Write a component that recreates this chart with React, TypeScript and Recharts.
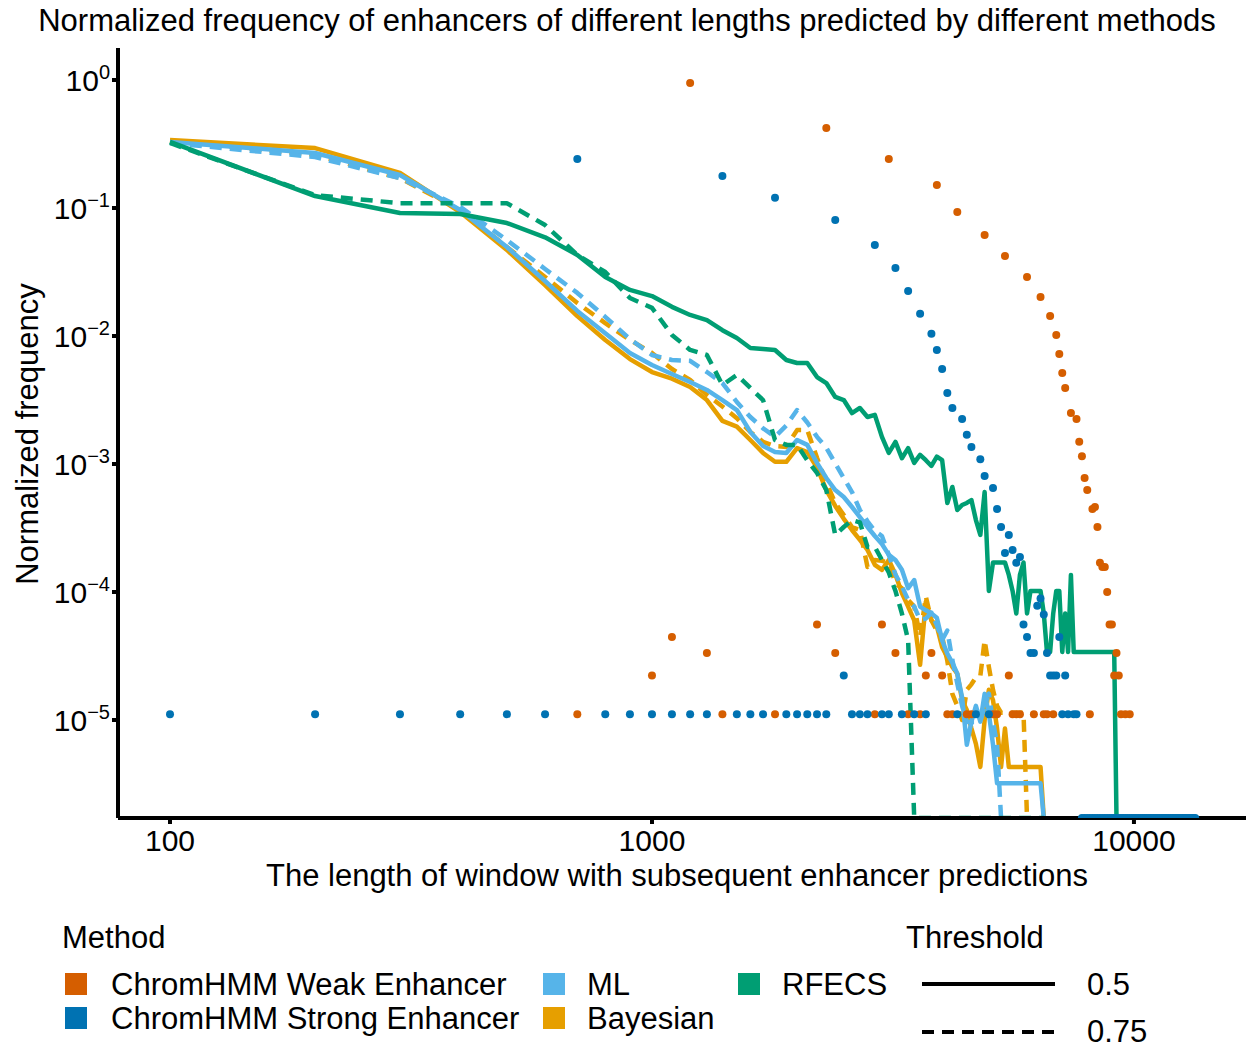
import React from 'react';
import { ComposedChart, Line, Scatter, XAxis, YAxis } from 'recharts';

const FONT = '"Liberation Sans", Arial, Helvetica, sans-serif';

// axis ranges (log10 scales, as in the original panel)
const X_MIN = 78;
const X_MAX = 17080;
const Y_MIN = 1.7155e-6; // panel floor: zero counts are drawn here
const Y_MAX = 1.778;
const X_TICKS = [100, 1000, 10000];
const Y_TICKS = [1e-5, 1e-4, 1e-3, 1e-2, 1e-1, 1];

const C_WEAK = '#D55E00';
const C_STRONG = '#0072B2';
const C_ML = '#56B4E9';
const C_BAYES = '#E69F00';
const C_RFECS = '#009E73';

// [window length, normalized frequency]
const mlSolid: [number, number][] = [
  [100, 0.328], [200, 0.269], [300, 0.181], [400, 0.0965], [500, 0.0496], [600, 0.0269], [700, 0.0157], [800, 0.0105],
  [900, 0.00737], [1000, 0.00593], [1100, 0.00505], [1200, 0.00437], [1300, 0.00379], [1400, 0.00316], [1500, 0.00264],
  [1600, 0.00178], [1700, 0.00138], [1800, 0.00124], [1900, 0.00122], [2000, 0.00154], [2100, 0.00141], [2200, 0.00102],
  [2300, 0.000777], [2400, 0.000626], [2500, 0.000552], [2600, 0.000461], [2700, 0.000385], [2800, 0.000322],
  [2900, 0.000274], [3000, 0.000237], [3100, 0.000195], [3200, 0.000178], [3300, 0.000149], [3400, 0.000107],
  [3500, 0.000124], [3600, 7.7e-5], [3700, 7.2e-5], [3800, 6.8e-5], [3900, 6.3e-5], [4000, 4.2e-5], [4100, 3.3e-5],
  [4200, 2.8e-5], [4300, 2.3e-5], [4400, 1.5e-5], [4500, 6.4e-6], [4600, 9.7e-6], [4700, 1.29e-5], [4800, 9.7e-6],
  [4900, 1.6e-5], [5000, 1.13e-5], [5100, 6.4e-6], [5200, 3.2e-6], [5300, 3.2e-6], [6400, 3.2e-6], [6500, 0],
];

const mlDashed: [number, number][] = [
  [100, 0.322], [200, 0.25], [300, 0.171], [400, 0.102], [500, 0.0562], [600, 0.0334], [700, 0.0217], [800, 0.0141],
  [900, 0.00948], [1000, 0.00711], [1100, 0.00649], [1200, 0.0064], [1300, 0.00523], [1400, 0.00429], [1500, 0.00305],
  [1600, 0.00233], [1700, 0.0019], [1800, 0.00163], [1900, 0.002], [2000, 0.00264], [2100, 0.00211], [2200, 0.00163],
  [2300, 0.00134], [2400, 0.00101], [2500, 0.000777], [2600, 0.000604], [2700, 0.000437], [2800, 0.000357],
  [2900, 0.0003], [3000, 0.000274], [3100, 0.000195], [3200, 0.000137], [3300, 0.000111], [3400, 8.66e-5],
  [3500, 7.7e-5], [3600, 6.04e-5], [3700, 6.2e-5], [3800, 6.9e-5], [3900, 5.5e-5], [4000, 4.22e-5], [4100, 5.0e-5],
  [4200, 2.94e-5], [4300, 1.93e-5], [4400, 1.29e-5], [4500, 9.66e-6], [4600, 9.66e-6], [4700, 9.66e-6],
  [4800, 9.66e-6], [4900, 1.29e-5], [5000, 1.61e-5], [5100, 9.66e-6], [5200, 6.44e-6], [5300, 0],
];

const bayesSolid: [number, number][] = [
  [100, 0.34], [200, 0.294], [300, 0.188], [400, 0.093], [500, 0.047], [600, 0.025], [700, 0.0143], [800, 0.0093],
  [900, 0.0066], [1000, 0.00523], [1100, 0.00464], [1200, 0.004], [1300, 0.00316], [1400, 0.00217], [1500, 0.00196],
  [1600, 0.00154], [1700, 0.00122], [1800, 0.00104], [1900, 0.00104], [2000, 0.00133], [2100, 0.00124], [2200, 0.00094],
  [2300, 0.000626], [2400, 0.00047], [2500, 0.000373], [2600, 0.000305], [2700, 0.000255], [2800, 0.000213],
  [2900, 0.000163], [3000, 0.000149], [3100, 0.000178], [3200, 0.000137], [3300, 9.8e-5], [3400, 7.7e-5],
  [3500, 6.0e-5], [3600, 2.7e-5], [3700, 8.4e-5], [3800, 6.0e-5], [3900, 5.4e-5], [4000, 3.7e-5], [4100, 3.1e-5],
  [4200, 2.6e-5], [4300, 2.3e-5], [4400, 1.43e-5], [4500, 1.2e-5], [4600, 8.6e-6], [4700, 6.5e-6], [4800, 4.3e-6],
  [4900, 1.0e-5], [5000, 1.72e-5], [5100, 1.43e-5], [5200, 8.6e-6], [5300, 4.3e-6], [5400, 8.6e-6], [5500, 4.3e-6],
  [6400, 4.3e-6], [6500, 0],
];

const bayesDashed: [number, number][] = [
  [100, 0.334], [200, 0.26], [300, 0.171], [400, 0.0965], [500, 0.0496], [600, 0.0289], [700, 0.0181], [800, 0.0126],
  [900, 0.0093], [1000, 0.00737], [1100, 0.00552], [1200, 0.00453], [1300, 0.00347], [1400, 0.00281], [1500, 0.00228],
  [1600, 0.00178], [1700, 0.00149], [1800, 0.00138], [1900, 0.00136], [2000, 0.00184], [2100, 0.00184], [2200, 0.00112],
  [2300, 0.00072], [2400, 0.000496], [2500, 0.0004], [2600, 0.000322], [2700, 0.000305], [2800, 0.000157],
  [2900, 0.000178], [3000, 0.000175], [3100, 0.00017], [3200, 0.000117], [3300, 0.000107], [3400, 8.66e-5],
  [3500, 7.7e-5], [3600, 4.5e-5], [3700, 9.2e-5], [3800, 6.0e-5], [3900, 5.0e-5], [4000, 4.5e-5], [4100, 2.9e-5],
  [4200, 1.6e-5], [4300, 1.29e-5], [4400, 1.0e-5], [4500, 1.72e-5], [4600, 1.9e-5], [4700, 2.15e-5], [4800, 2.2e-5],
  [4900, 4.2e-5], [5000, 2.6e-5], [5100, 1.72e-5], [5200, 1.29e-5], [5300, 1.14e-5], [5900, 1.14e-5], [6000, 0],
];

const rfecsSolid: [number, number][] = [
  [100, 0.328], [200, 0.124], [300, 0.0914], [400, 0.0898], [500, 0.0763], [600, 0.059], [700, 0.043], [800, 0.0289],
  [900, 0.0229], [1000, 0.0205], [1100, 0.0169], [1200, 0.0146], [1300, 0.0133], [1400, 0.0111], [1500, 0.00964],
  [1600, 0.00806], [1700, 0.00791], [1800, 0.00778], [1900, 0.00649], [2000, 0.00615], [2100, 0.00615], [2200, 0.00478],
  [2300, 0.00429], [2400, 0.00334], [2500, 0.00316], [2600, 0.0025], [2700, 0.00274], [2800, 0.00233], [2900, 0.00242],
  [3000, 0.00163], [3100, 0.00122], [3200, 0.00149], [3300, 0.00111], [3400, 0.00133], [3500, 0.00102], [3600, 0.00118],
  [3700, 0.00107], [3800, 0.000965], [3900, 0.00114], [4000, 0.00107], [4100, 0.000496], [4200, 0.000661],
  [4300, 0.000437], [4400, 0.000478], [4500, 0.000496], [4600, 0.000523], [4700, 0.000365], [4800, 0.000279],
  [4900, 0.000604], [5000, 0.000102], [5100, 0.00017], [5200, 0.00017], [5300, 0.00017], [5400, 0.00017],
  [5500, 0.000136], [5600, 0.000102], [5700, 6.8e-5], [5800, 0.000136], [5900, 0.00017], [6000, 6.8e-5],
  [6100, 0.000102], [6200, 0.000102], [6300, 0.000102], [6400, 0.000102], [6500, 6.8e-5], [6600, 3.4e-5],
  [6700, 3.4e-5], [6800, 6.8e-5], [6900, 0.000102], [7000, 0.000102], [7100, 3.4e-5], [7200, 6.8e-5],
  [7300, 3.4e-5], [7400, 0.000136], [7500, 3.4e-5], [9100, 3.4e-5], [9200, 0],
];

const rfecsDashed: [number, number][] = [
  [100, 0.322], [200, 0.126], [300, 0.109], [400, 0.109], [500, 0.109], [600, 0.0736], [700, 0.043], [800, 0.0316],
  [900, 0.0198], [1000, 0.0166], [1100, 0.0102], [1200, 0.00778], [1300, 0.00711], [1400, 0.00414], [1500, 0.00496],
  [1600, 0.00393], [1700, 0.00316], [1800, 0.00154], [1900, 0.00141], [2000, 0.00141], [2100, 0.00107],
  [2200, 0.000851], [2300, 0.000626], [2400, 0.000279], [2500, 0.000322], [2600, 0.000365], [2700, 0.00035],
  [2800, 0.000225], [2900, 0.000225], [3000, 0.000178], [3100, 0.000142], [3200, 0.000102], [3300, 6.8e-5],
  [3400, 4.2e-5], [3500, 0], [6500, 0],
];

const weakPts: [number, number][] = [
  [700, 1.11e-5], [1000, 2.23e-5], [1100, 4.46e-5], [1200, 0.948], [1300, 3.34e-5], [1400, 1.11e-5], [1800, 1.11e-5],
  [2200, 5.57e-5], [2300, 0.422], [2400, 3.34e-5], [2900, 1.11e-5], [3000, 5.57e-5], [3100, 0.241], [3200, 3.34e-5],
  [3400, 1.11e-5], [3600, 1.11e-5], [3700, 2.23e-5], [3800, 3.34e-5], [3900, 0.151], [4000, 2.23e-5], [4100, 1.11e-5],
  [4200, 1.11e-5], [4300, 0.0931], [4500, 1.11e-5], [4600, 1.11e-5], [4900, 0.0615], [5100, 1.11e-5], [5200, 1.11e-5],
  [5400, 0.0422], [5500, 2.23e-5], [5600, 1.11e-5], [5700, 1.11e-5], [5800, 1.11e-5], [6000, 0.0289], [6200, 1.11e-5],
  [6400, 0.0202], [6500, 1.11e-5], [6600, 1.11e-5], [6700, 0.0143], [6800, 1.11e-5], [6900, 0.0102], [7000, 0.00723],
  [7100, 0.00514], [7200, 0.00393], [7400, 0.0025], [7600, 0.00225], [7700, 0.00149], [7800, 0.00115],
  [7900, 0.000777], [8000, 0.000626], [8100, 1.11e-5], [8200, 0.000445], [8300, 0.000461], [8400, 0.000322],
  [8500, 0.000169], [8600, 0.000157], [8700, 0.000157], [8800, 1.0e-4], [8900, 5.57e-5], [9000, 5.57e-5],
  [9100, 2.23e-5], [9200, 3.34e-5], [9300, 2.23e-5], [9400, 1.11e-5], [9600, 1.11e-5], [9800, 1.11e-5],
];

const strongPts: [number, number][] = [
  [100, 1.11e-5], [200, 1.11e-5], [300, 1.11e-5], [400, 1.11e-5], [500, 1.11e-5], [600, 1.11e-5], [700, 0.241],
  [800, 1.11e-5], [900, 1.11e-5], [1000, 1.11e-5], [1100, 1.11e-5], [1200, 1.11e-5], [1300, 1.11e-5], [1400, 0.178],
  [1500, 1.11e-5], [1600, 1.11e-5], [1700, 1.11e-5], [1800, 0.12], [1900, 1.11e-5], [2000, 1.11e-5], [2100, 1.11e-5],
  [2200, 1.11e-5], [2300, 1.11e-5], [2400, 0.0806], [2500, 2.23e-5], [2600, 1.11e-5], [2700, 1.11e-5], [2800, 1.11e-5],
  [2900, 0.0514], [3000, 1.11e-5], [3100, 1.11e-5], [3200, 0.034], [3300, 1.11e-5], [3400, 0.0225], [3500, 1.11e-5],
  [3600, 0.0149], [3700, 1.11e-5], [3800, 0.0104], [3900, 0.00778], [4000, 0.00552], [4100, 0.00359], [4200, 0.00274],
  [4300, 1.11e-5], [4400, 0.00225], [4500, 0.00169], [4600, 0.00136], [4700, 1.11e-5], [4800, 0.00109],
  [4900, 0.000806], [5000, 1.11e-5], [5100, 0.00065], [5200, 0.000445], [5300, 0.000322], [5400, 0.000202],
  [5500, 0.000279], [5600, 0.000213], [5700, 0.000169], [5800, 0.000188], [5900, 5.57e-5], [6000, 4.46e-5],
  [6100, 3.34e-5], [6200, 3.34e-5], [6300, 7.8e-5], [6400, 8.91e-5], [6500, 6.68e-5], [6600, 3.34e-5],
  [6700, 2.23e-5], [6800, 2.23e-5], [6900, 2.23e-5], [7000, 4.46e-5], [7100, 1.11e-5], [7200, 2.23e-5],
  [7300, 1.11e-5], [7500, 1.11e-5], [7600, 1.11e-5],
  [7800, 0], [7900, 0], [8000, 0], [8100, 0], [8200, 0], [8300, 0], [8400, 0], [8500, 0], [8600, 0],
  [8700, 0], [8800, 0], [8900, 0], [9000, 0], [9100, 0], [9200, 0], [9300, 0], [9400, 0], [9500, 0], [9600, 0],
  [9700, 0], [9800, 0], [9900, 0], [10000, 0], [10100, 0], [10200, 0], [10300, 0], [10400, 0], [10500, 0],
  [10600, 0], [10700, 0], [10800, 0], [10900, 0], [11000, 0], [11100, 0], [11200, 0], [11300, 0], [11400, 0],
  [11500, 0], [11600, 0], [11700, 0], [11800, 0], [11900, 0], [12000, 0], [12100, 0], [12200, 0], [12300, 0],
  [12400, 0], [12500, 0], [12600, 0], [12700, 0], [12800, 0], [12900, 0], [13000, 0], [13100, 0], [13200, 0],
  [13300, 0], [13400, 0],
];

const METHOD_LABELS = ['ChromHMM Weak Enhancer', 'ChromHMM Strong Enhancer', 'ML', 'Bayesian', 'RFECS'];
const THRESHOLD_LABELS = ['0.5', '0.75'];

const toPts = (arr: [number, number][]) => arr.map(([L, v]) => ({ L, v: v <= 0 ? Y_MIN : v }));

const XTick = (props: any) => {
  const { x, y, payload } = props;
  return (
    <text x={x} y={y} dy={25} textAnchor="middle" fontSize={30} fill="#000" fontFamily={FONT}>
      {payload.value}
    </text>
  );
};

const YTick = (props: any) => {
  const { x, y, payload } = props;
  const e = Math.round(Math.log10(payload.value));
  const exp = e < 0 ? `\u2212${-e}` : `${e}`;
  return (
    <text x={x} y={y} dy={11} textAnchor="end" fontSize={30} fill="#000" fontFamily={FONT}>
      <tspan>10</tspan>
      <tspan dy={-12} fontSize={20}>{exp}</tspan>
    </text>
  );
};

const DASH = '12 8';

const dotShape = (color: string) => (p: any) => <circle cx={p.cx} cy={p.cy} r={4} fill={color} />;

export default function App() {
  const lineCommon = { dataKey: 'v', dot: false, activeDot: false, isAnimationActive: false, type: 'linear' as const, strokeWidth: 4.5, strokeLinejoin: 'round' as const };
  return (
    <div style={{ position: 'absolute', left: 0, top: 0, width: 1252, height: 1048, background: '#fff', fontFamily: FONT }}>
      <ComposedChart width={1252} height={1048} margin={{ top: 48, right: 6, bottom: 200, left: 0 }}>
        <XAxis
          dataKey="L" type="number" scale="log" domain={[X_MIN, X_MAX]} allowDataOverflow
          ticks={X_TICKS} interval={0} tick={(p: any) => <XTick {...p} />} tickSize={6}
          axisLine={{ stroke: '#000', strokeWidth: 4 }} tickLine={{ stroke: '#000', strokeWidth: 4 }} height={30}
        />
        <YAxis
          dataKey="v" type="number" scale="log" domain={[Y_MIN, Y_MAX]} allowDataOverflow
          ticks={Y_TICKS} interval={0} tick={(p: any) => <YTick {...p} />} tickSize={6}
          axisLine={{ stroke: '#000', strokeWidth: 4 }} tickLine={{ stroke: '#000', strokeWidth: 4 }} width={118}
        />
        <Line {...lineCommon} data={toPts(bayesSolid)} stroke={C_BAYES} />
        <Line {...lineCommon} data={toPts(bayesDashed)} stroke={C_BAYES} strokeDasharray={DASH} />
        <Line {...lineCommon} data={toPts(mlSolid)} stroke={C_ML} />
        <Line {...lineCommon} data={toPts(mlDashed)} stroke={C_ML} strokeDasharray={DASH} />
        <Line {...lineCommon} data={toPts(rfecsSolid)} stroke={C_RFECS} />
        <Line {...lineCommon} data={toPts(rfecsDashed)} stroke={C_RFECS} strokeDasharray={DASH} />
        <Scatter data={toPts(weakPts)} fill={C_WEAK} shape={dotShape(C_WEAK)} isAnimationActive={false} />
        <Scatter data={toPts(strongPts)} fill={C_STRONG} shape={dotShape(C_STRONG)} isAnimationActive={false} />
      </ComposedChart>
      <svg width={1252} height={1048} style={{ position: 'absolute', left: 0, top: 0, pointerEvents: 'none' }} fontFamily={FONT}>
        <text x={627} y={31} textAnchor="middle" fontSize={31} fill="#000">
          Normalized frequency of enhancers of different lengths predicted by different methods
        </text>
        <text x={677} y={886} textAnchor="middle" fontSize={31} fill="#000">
          The length of window with subsequent enhancer predictions
        </text>
        <text transform="translate(38,434) rotate(-90)" textAnchor="middle" fontSize={31} fill="#000">
          Normalized frequency
        </text>
        {/* legend: Method */}
        <text x={62} y={948} fontSize={31} fill="#000">Method</text>
        <rect x={65} y={973} width={22} height={22} fill={C_WEAK} />
        <text x={111} y={995} fontSize={31} fill="#000">{METHOD_LABELS[0]}</text>
        <rect x={65} y={1007} width={22} height={22} fill={C_STRONG} />
        <text x={111} y={1029} fontSize={31} fill="#000">{METHOD_LABELS[1]}</text>
        <rect x={543} y={973} width={22} height={22} fill={C_ML} />
        <text x={587} y={995} fontSize={31} fill="#000">{METHOD_LABELS[2]}</text>
        <rect x={543} y={1007} width={22} height={22} fill={C_BAYES} />
        <text x={587} y={1029} fontSize={31} fill="#000">{METHOD_LABELS[3]}</text>
        <rect x={738} y={973} width={22} height={22} fill={C_RFECS} />
        <text x={782} y={995} fontSize={31} fill="#000">{METHOD_LABELS[4]}</text>
        {/* legend: Threshold */}
        <text x={906} y={948} fontSize={31} fill="#000">Threshold</text>
        <line x1={922} y1={984} x2={1055} y2={984} stroke="#000" strokeWidth={4} />
        <text x={1087} y={995} fontSize={31} fill="#000">{THRESHOLD_LABELS[0]}</text>
        <line x1={922} y1={1032} x2={1055} y2={1032} stroke="#000" strokeWidth={4} strokeDasharray={DASH} />
        <text x={1087} y={1042} fontSize={31} fill="#000">{THRESHOLD_LABELS[1]}</text>
      </svg>
    </div>
  );
}
